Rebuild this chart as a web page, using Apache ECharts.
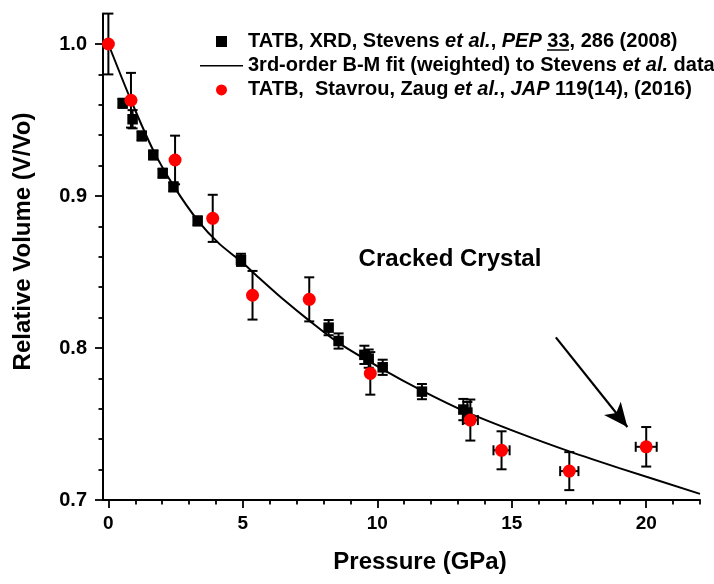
<!DOCTYPE html>
<html>
<head>
<meta charset="utf-8">
<script src="https://cdn.jsdelivr.net/npm/echarts@6/dist/echarts.min.js"></script>
<style>
  html, body { margin: 0; padding: 0; background: #fff; }
  #chart { width: 714px; height: 584px; }
</style>
</head>
<body>
<div id="chart"></div>
<script>
// Stevens et al. XRD data (black squares)
var stevensP = [0.53, 0.90, 1.24, 1.67, 2.02, 2.42, 3.32, 4.93, 8.19, 8.56, 9.52, 9.68, 10.20, 11.66, 13.20, 13.35];
var stevensV = [0.961, 0.9505, 0.9395, 0.927, 0.915, 0.906, 0.8836, 0.858, 0.8134, 0.8046, 0.7955, 0.793, 0.7873, 0.7713, 0.7595, 0.7575];
var stevensErr = [0.003, 0.006, 0.003, 0.003, 0.003, 0.003, 0.003, 0.004, 0.005, 0.005, 0.006, 0.006, 0.005, 0.005, 0.007, 0.007];

// Stavrou, Zaug et al. data (red circles)
var stavrouP = [0, 0.84, 2.48, 3.88, 5.36, 7.47, 9.74, 13.46, 14.62, 17.14, 20.0];
var stavrouV = [1.000, 0.963, 0.9237, 0.8853, 0.8347, 0.832, 0.7833, 0.7526, 0.7327, 0.719, 0.735];
var stavrouErrV = [0.020, 0.018, 0.016, 0.0155, 0.016, 0.0145, 0.014, 0.0135, 0.0125, 0.0125, 0.013];
var stavrouErrP = [0, 0, 0, 0, 0, 0, 0, 0.28, 0.30, 0.34, 0.39];

// 3rd-order B-M fit curve
var fitP = [0, 0.84, 1.67, 2.45, 3.32, 4.10, 4.93, 5.61, 6.50, 7.47, 8.59, 10.20, 11.66, 13.30, 15.28, 17.14, 19.00, 22.00];
var fitV = [1.000, 0.963, 0.930, 0.906, 0.884, 0.869, 0.857, 0.846, 0.832, 0.818, 0.803, 0.786, 0.772, 0.758, 0.744, 0.732, 0.721, 0.704];

// ticks
var xMajor = [0, 5, 10, 15, 20];
var xMinor = [1, 2, 3, 4, 6, 7, 8, 9, 11, 12, 13, 14, 16, 17, 18, 19, 21, 22];
var yMajor = [0.7, 0.8, 0.9, 1.0];
var yMinor = [0.72, 0.74, 0.76, 0.78, 0.82, 0.84, 0.86, 0.88, 0.92, 0.94, 0.96, 0.98];

// arrow pointing at the cracked crystal point
var arrowFrom = [16.64, 0.807];
var arrowTo = [19.30, 0.748];

var FONT = '"Liberation Sans", Arial, sans-serif';
var NAME_XRD = 'TATB, XRD, Stevens et al., PEP 33, 286 (2008)';
var NAME_FIT = '3rd-order B-M fit (weighted) to Stevens et al. data';
var NAME_ZAUG = 'TATB,  Stavrou, Zaug et al., JAP 119(14), (2016)';

function zip(a, b) {
  return a.map(function (v, i) { return [v, b[i]]; });
}

function errorBars(params, api) {
  var x = api.value(0), y = api.value(1), dy = api.value(2), dx = api.value(3);
  var c = api.coord([x, y]);
  var st = { stroke: '#000', lineWidth: 2 };
  var cap = 5;
  var kids = [];
  if (dy > 0) {
    var t = api.coord([x, y + dy]), b = api.coord([x, y - dy]);
    kids.push({ type: 'line', shape: { x1: c[0], y1: t[1], x2: c[0], y2: b[1] }, style: st });
    kids.push({ type: 'line', shape: { x1: c[0] - cap, y1: t[1], x2: c[0] + cap, y2: t[1] }, style: st });
    kids.push({ type: 'line', shape: { x1: c[0] - cap, y1: b[1], x2: c[0] + cap, y2: b[1] }, style: st });
  }
  if (dx > 0) {
    var l = api.coord([x - dx, y]), r = api.coord([x + dx, y]);
    kids.push({ type: 'line', shape: { x1: l[0], y1: c[1], x2: r[0], y2: c[1] }, style: st });
    kids.push({ type: 'line', shape: { x1: l[0], y1: c[1] - cap, x2: l[0], y2: c[1] + cap }, style: st });
    kids.push({ type: 'line', shape: { x1: r[0], y1: c[1] - cap, x2: r[0], y2: c[1] + cap }, style: st });
  }
  return { type: 'group', children: kids };
}

var myChart = echarts.init(document.getElementById('chart'), null, { renderer: 'canvas' });

var axisBase = {
  type: 'value',
  axisLine: { onZero: false, lineStyle: { color: '#000', width: 2 } },
  splitLine: { show: false }
};

var option = {
  backgroundColor: '#fff',
  animation: false,
  grid: { left: 103, right: 14, top: 13.6, bottom: 84 },
  legend: {
    orient: 'vertical',
    left: 195,
    top: 26.5,
    itemWidth: 43,
    itemHeight: 11,
    itemGap: 4.2,
    selectedMode: false,
    textStyle: { fontFamily: FONT, fontSize: 20, fontWeight: 'bold', color: '#000', lineHeight: 20,
      rich: { i: { fontStyle: 'italic', fontSize: 20, fontWeight: 'bold', lineHeight: 20 } } },
    formatter: function (name) {
      if (name === NAME_XRD) return 'TATB, XRD, Stevens {i|et al.}, {i|PEP} 33, 286 (2008)';
      if (name === NAME_FIT) return '3rd-order B-M fit (weighted) to Stevens {i|et al.} data';
      return 'TATB,  Stavrou, Zaug {i|et al.}, {i|JAP} 119(14), (2016)';
    },
    data: [
      { name: NAME_XRD, icon: 'path://M0,0L10,0L10,10L0,10Z' },
      { name: NAME_FIT, icon: 'path://M0,0L43,0L43,1.6L0,1.6Z' },
      { name: NAME_ZAUG, icon: 'circle' }
    ]
  },
  xAxis: [
    Object.assign({}, axisBase, {
      min: -0.2, max: 22, position: 'bottom',
      axisTick: { customValues: xMajor, length: 8, lineStyle: { color: '#000', width: 1.8 } },
      axisLabel: { customValues: xMajor, margin: 14, fontFamily: FONT, fontSize: 19, fontWeight: 'bold', color: '#000' }
    }),
    Object.assign({}, axisBase, {
      min: -0.2, max: 22, position: 'bottom',
      axisLine: { show: false, onZero: false },
      axisTick: { customValues: xMinor, length: 4.5, lineStyle: { color: '#000', width: 1.8 } },
      axisLabel: { show: false }
    })
  ],
  yAxis: [
    Object.assign({}, axisBase, {
      min: 0.7, max: 1.02, position: 'left',
      axisTick: { customValues: yMajor, length: 8, lineStyle: { color: '#000', width: 1.8 } },
      axisLabel: { customValues: yMajor, margin: 16, fontFamily: FONT, fontSize: 20, fontWeight: 'bold', color: '#000',
        formatter: function (v) { return v.toFixed(1); } }
    }),
    Object.assign({}, axisBase, {
      min: 0.7, max: 1.02, position: 'left',
      axisLine: { show: false, onZero: false },
      axisTick: { customValues: yMinor, length: 4.5, lineStyle: { color: '#000', width: 1.8 } },
      axisLabel: { show: false }
    })
  ],
  series: [
    {
      name: NAME_FIT,
      type: 'line',
      data: zip(fitP, fitV),
      smooth: 0.3,
      symbol: 'none',
      lineStyle: { color: '#000', width: 2 },
      itemStyle: { color: '#000' },
      z: 2,
      markLine: {
        silent: true,
        symbol: ['none', 'arrow'],
        symbolSize: [16, 24],
        label: { show: false },
        lineStyle: { color: '#000', width: 2.2, type: 'solid' },
        data: [[{ coord: arrowFrom }, { coord: arrowTo }]]
      }
    },
    {
      type: 'custom',
      renderItem: errorBars,
      data: stevensP.map(function (p, i) { return [p, stevensV[i], stevensErr[i], 0]; }),
      encode: { x: 0, y: 1 },
      z: 3
    },
    {
      type: 'custom',
      renderItem: errorBars,
      data: stavrouP.map(function (p, i) { return [p, stavrouV[i], stavrouErrV[i], stavrouErrP[i]]; }),
      encode: { x: 0, y: 1 },
      z: 3
    },
    {
      name: NAME_XRD,
      type: 'scatter',
      data: zip(stevensP, stevensV),
      symbol: 'rect',
      symbolSize: 10.5,
      itemStyle: { color: '#000', opacity: 1 },
      z: 4
    },
    {
      name: NAME_ZAUG,
      type: 'scatter',
      data: zip(stavrouP, stavrouV),
      symbol: 'circle',
      symbolSize: 13,
      itemStyle: { color: '#ff0000', opacity: 1 },
      z: 5
    }
  ],
  graphic: [
    { type: 'text', x: 23, y: 241.5, rotation: Math.PI / 2,
      style: { text: 'Relative Volume (V/Vo)', font: 'bold 24px ' + FONT, fill: '#000', textAlign: 'center', textVerticalAlign: 'middle' } },
    { type: 'text', x: 420, y: 562,
      style: { text: 'Pressure (GPa)', font: 'bold 24px ' + FONT, fill: '#000', textAlign: 'center', textVerticalAlign: 'middle' } },
    { type: 'text', x: 450, y: 259,
      style: { text: 'Cracked Crystal', font: 'bold 24px ' + FONT, fill: '#000', textAlign: 'center', textVerticalAlign: 'middle' } },
    // underline under "33"
    { type: 'line', shape: { x1: 547, y1: 50, x2: 569, y2: 50 }, style: { stroke: '#000', lineWidth: 1.5 } }
  ]
};

myChart.setOption(option);
</script>
</body>
</html>
